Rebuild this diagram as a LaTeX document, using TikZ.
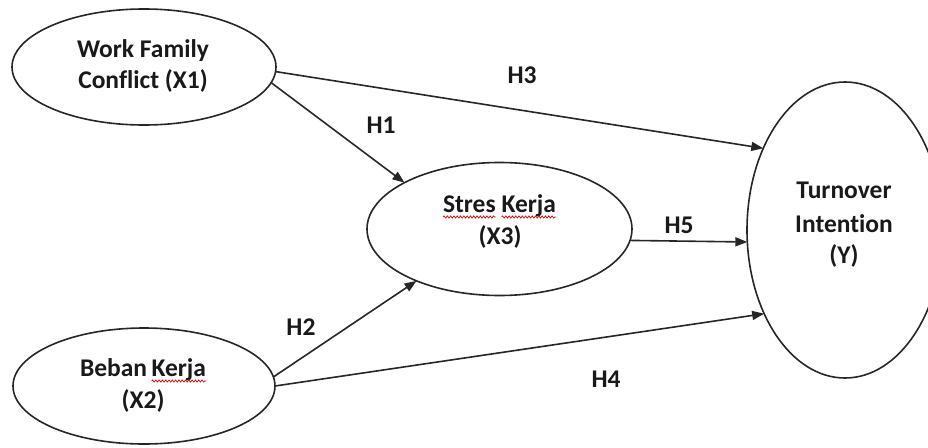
\documentclass[tikz,border=0pt]{standalone}
\usepackage{fontspec}
\setmainfont{Carlito}[Ligatures={NoCommon}]
\usetikzlibrary{arrows.meta,decorations.pathmorphing,shapes.geometric,calc}
\begin{document}
\begin{tikzpicture}[x=1pt,y=-1pt,
  ell/.style={draw=black!85, line width=1.6pt, ellipse, inner sep=0pt, outer sep=0pt},
  txt/.style={font=\fontsize{25.5}{30}\selectfont\bfseries, text=black!90, inner sep=0pt, outer sep=0pt, anchor=base},
  arr/.style={draw=black!85, line width=1.6pt, -{Triangle[length=12pt,width=9pt]}},
  squig/.style={draw=red!85!black, line width=0.7pt, decorate, decoration={snake, amplitude=1.1pt, segment length=3.3pt}}]
\useasboundingbox (0,0) rectangle (928,447);
\clip (0,0) rectangle (928,447);

% ellipses
\node[ell, minimum width=264pt, minimum height=116pt] (x1) at (144,67) {};
\node[ell, minimum width=262pt, minimum height=116pt] (x2) at (144,386) {};
\node[ell, minimum width=265pt, minimum height=133pt] (x3) at (499.5,229) {};
\node[ell, minimum width=196pt, minimum height=296pt] (y) at (845,230) {};

% texts
\node[txt] (x1a) at (143,57) {Work Family};
\node[txt] (x1b) at (143,88) {Conflict (X1)};

\node[txt, anchor=base west] (x2w1) at (80,376) {Beban};
\node[txt, anchor=base east] (x2w2) at (206,376) {Kerja};
\node[txt] (x2b) at (143,408) {(X2)};

\node[txt, anchor=base west] (x3w1) at (443,212) {Stres};
\node[txt, anchor=base east] (x3w2) at (556,212) {Kerja};
\node[txt] (x3b) at (500,244) {(X3)};

\node[txt] (ya) at (844,198) {Turnover};
\node[txt] (yb) at (844,232) {Intention};
\node[txt] (yc) at (844,263) {(Y)};

% spell-check squiggles
\draw[squig] ($(x2w2.base west)+(0,5)$) -- ($(x2w2.base east)+(0,5)$);
\draw[squig] ($(x3w1.base west)+(0,5)$) -- ($(x3w1.base east)+(0,5)$);
\draw[squig] ($(x3w2.base west)+(0,5)$) -- ($(x3w2.base east)+(0,5)$);

% connectors
\draw[arr] (x1.-2.7) -- (y.135.7);
\draw[arr] (x1.-7) -- (x3.154);
\draw[arr] (x2.4) -- (x3.212);
\draw[arr] (x2.0) -- (y.226);
\draw[arr] (x3.-5.7) -- (y.187);

% hypothesis labels
\node[txt] (h1) at (381,133) {H1};
\node[txt] (h2) at (301,335) {H2};
\node[txt] (h3) at (522,83) {H3};
\node[txt] (h4) at (606,387) {H4};
\node[txt] (h5) at (679,233) {H5};
\end{tikzpicture}
\end{document}
